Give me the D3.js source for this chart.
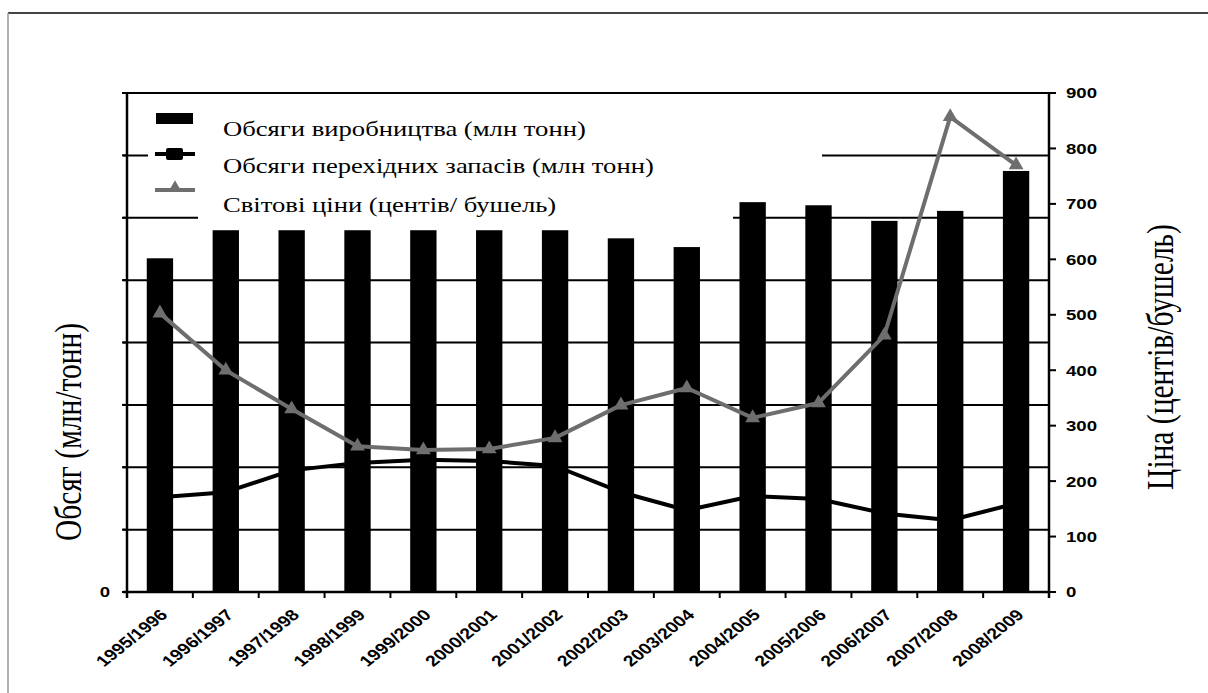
<!DOCTYPE html>
<html><head><meta charset="utf-8">
<script src="https://cdn.jsdelivr.net/npm/d3@7/dist/d3.min.js"></script>
<style>html,body{margin:0;padding:0;background:#fff;}svg{display:block;}</style>
</head><body>
<svg id="c" width="1208" height="693"></svg>
<script>
const categories = ["1995/1996","1996/1997","1997/1998","1998/1999","1999/2000","2000/2001","2001/2002","2002/2003","2003/2004","2004/2005","2005/2006","2006/2007","2007/2008","2008/2009"];
const production = [535,580,580,580,580,580,580,567,553,625,620,595,611,675];
const stocks = [152,160,195,207,212,210,202,160,131,154,149,126,115,142];
const prices = [503,400,330,263,256,258,278,337,368,314,341,463,857,770];
const leftTicks = [0,100,200,300,400,500,600,700,800];
const rightTicks = [0,100,200,300,400,500,600,700,800,900];
const legendLabels = ["Обсяги виробництва (млн тонн)","Обсяги перехідних запасів (млн тонн)","Світові ціни (центів/ бушель)"];
const leftTitle = "Обсяг (млн/тонн)";
const rightTitle = "Ціна (центів/бушель)";

const svg = d3.select("#c");
const L = 127, R = 1049, T = 93, B = 592;
const SX = 1.25; // horizontal stretch of the reference's lettering
const x = d3.scaleBand().domain(categories).range([L, R]).paddingInner(0.6).paddingOuter(0.3);
const yL = d3.scaleLinear().domain([0, 800]).range([B, T]);
const yR = d3.scaleLinear().domain([0, 900]).range([B, T]);
const cx = d => x(d) + x.bandwidth() / 2;
const gray = "#6e6e6e";

svg.append("rect").attr("width", 1208).attr("height", 693).attr("fill", "#fff");
// frame
svg.append("line").attr("x1", 8).attr("x2", 1208).attr("y1", 13).attr("y2", 13).attr("stroke", "#444").attr("stroke-width", 2);
svg.append("line").attr("x1", 8).attr("x2", 8).attr("y1", 13).attr("y2", 693).attr("stroke", "#999").attr("stroke-width", 1.5);

// gridlines
svg.append("g").selectAll("line").data(leftTicks.filter(v => v > 0)).join("line")
  .attr("x1", L - 4).attr("x2", R).attr("y1", d => yL(d)).attr("y2", d => yL(d))
  .attr("stroke", "#000").attr("stroke-width", 2);

// stocks line
svg.append("path").datum(stocks)
  .attr("d", d3.line().x((d, i) => cx(categories[i])).y(d => yL(d)))
  .attr("fill", "none").attr("stroke", "#000").attr("stroke-width", 4).attr("stroke-linejoin", "round");

// bars
svg.append("g").selectAll("rect").data(production).join("rect")
  .attr("x", (d, i) => x(categories[i])).attr("width", x.bandwidth())
  .attr("y", d => yL(d)).attr("height", d => B - yL(d)).attr("fill", "#000");

// legend backgrounds
svg.append("rect").attr("x", 148).attr("y", 97).attr("width", 822 - 148).attr("height", 103).attr("fill", "#fff");
svg.append("rect").attr("x", 198).attr("y", 200).attr("width", 733 - 198).attr("height", 24).attr("fill", "#fff");

// axes
svg.append("line").attr("x1", L).attr("x2", L).attr("y1", T - 1).attr("y2", B + 6).attr("stroke", "#000").attr("stroke-width", 2.5);
svg.append("line").attr("x1", R).attr("x2", R).attr("y1", T - 1).attr("y2", B + 6).attr("stroke", "#000").attr("stroke-width", 2.5);
svg.append("line").attr("x1", L - 4).attr("x2", R).attr("y1", B).attr("y2", B).attr("stroke", "#000").attr("stroke-width", 2.5);
svg.append("line").attr("x1", L - 4).attr("x2", R).attr("y1", T).attr("y2", T).attr("stroke", "#000").attr("stroke-width", 2);
svg.append("g").selectAll("line").data(leftTicks).join("line")
  .attr("x1", L - 5).attr("x2", L).attr("y1", d => yL(d)).attr("y2", d => yL(d)).attr("stroke", "#000").attr("stroke-width", 2);
svg.append("g").selectAll("line").data(d3.range(categories.length + 1)).join("line")
  .attr("x1", i => L + i * x.step()).attr("x2", i => L + i * x.step())
  .attr("y1", B).attr("y2", B + 6).attr("stroke", "#000").attr("stroke-width", 2);
svg.append("g").selectAll("line").data(rightTicks).join("line")
  .attr("x1", R).attr("x2", R + 7).attr("y1", d => yR(d)).attr("y2", d => yR(d)).attr("stroke", "#000").attr("stroke-width", 2);

// tick labels
const tickFont = "'Liberation Sans', Arial, sans-serif";
svg.append("g").selectAll("text").data(rightTicks).join("text")
  .attr("transform", d => `translate(${R + 17},${yR(d)}) scale(1.2,1)`).attr("dy", "0.35em")
  .attr("font-family", tickFont).attr("font-weight", "bold").attr("font-size", 15.5).text(d => d);
svg.append("text").attr("transform", `translate(110,${yL(0)}) scale(1.2,1)`).attr("dy", "0.35em").attr("text-anchor", "end")
  .attr("font-family", tickFont).attr("font-weight", "bold").attr("font-size", 15.5).text(leftTicks[0]);
svg.append("g").selectAll("text").data(categories).join("text")
  .attr("transform", d => `translate(${cx(d) + 4},${B + 20}) scale(${SX},1) rotate(-45)`)
  .attr("text-anchor", "end").attr("dy", "0.35em")
  .attr("font-family", tickFont).attr("font-weight", "bold").attr("font-size", 15.5).text(d => d);

// price line
svg.append("path").datum(prices)
  .attr("d", d3.line().x((d, i) => cx(categories[i])).y(d => yR(d)))
  .attr("fill", "none").attr("stroke", gray).attr("stroke-width", 4).attr("stroke-linejoin", "round");
svg.append("g").selectAll("path").data(prices).join("path")
  .attr("transform", (d, i) => `translate(${cx(categories[i])},${yR(d)})`)
  .attr("d", d3.symbol().type(d3.symbolTriangle).size(95)).attr("fill", gray);

// legend
const serif = "'Liberation Serif', 'Times New Roman', serif";
svg.append("rect").attr("x", 156).attr("y", 113).attr("width", 37).attr("height", 11).attr("fill", "#000");
svg.append("line").attr("x1", 155).attr("x2", 195).attr("y1", 154).attr("y2", 154).attr("stroke", "#000").attr("stroke-width", 4);
svg.append("rect").attr("x", 166).attr("y", 148).attr("width", 17).attr("height", 12).attr("rx", 2).attr("fill", "#000");
svg.append("line").attr("x1", 155).attr("x2", 195).attr("y1", 190).attr("y2", 190).attr("stroke", gray).attr("stroke-width", 4);
svg.append("path").attr("transform", "translate(175,188)").attr("d", d3.symbol().type(d3.symbolTriangle).size(80)).attr("fill", gray);
svg.append("g").selectAll("text").data(legendLabels).join("text")
  .attr("transform", (d, i) => `translate(223,${[136, 173, 212][i]}) scale(1.3,1)`)
  .attr("font-family", serif).attr("font-size", 20.5).attr("fill", "#000").text(d => d);

// axis titles
svg.append("text").attr("transform", `translate(81,432) scale(${SX},1) rotate(-90)`).attr("text-anchor", "middle")
  .attr("font-family", serif).attr("font-size", 29.5).text(leftTitle);
svg.append("text").attr("transform", `translate(1173,357) scale(${SX},1) rotate(-90)`).attr("text-anchor", "middle")
  .attr("font-family", serif).attr("font-size", 29.5).text(rightTitle);
</script>
</body></html>
